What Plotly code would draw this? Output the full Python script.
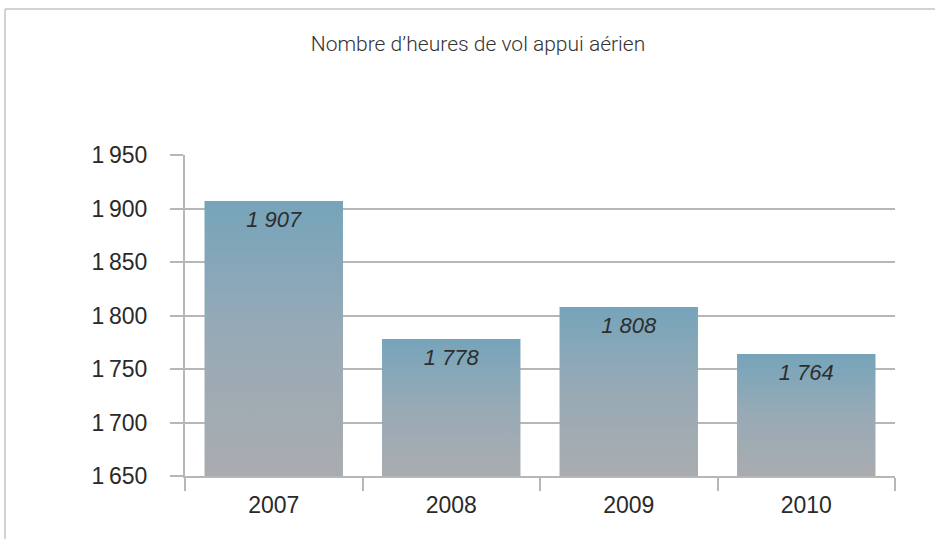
import plotly.graph_objects as go

annees = ["2007", "2008", "2009", "2010"]
heures = [1907, 1778, 1808, 1764]
etiquettes = ["1 907", "1 778", "1 808", "1 764"]
y_ticks = [1650, 1700, 1750, 1800, 1850, 1900, 1950]
titre = "Nombre d\u2019heures de vol appui a\u00e9rien"

y_min = 1650
demi_largeur = 0.39
gris = "#b5b7b9"
police = "Liberation Sans"
positions = list(range(len(annees)))

fig = go.Figure()

# trace invisible sur l'axe categoriel (graduations)
fig.add_trace(go.Scatter(x=annees, y=heures, mode="markers", marker=dict(opacity=0),
                         hoverinfo="skip", showlegend=False))

# barres en degrade (une trace par barre)
for i, h in zip(positions, heures):
    fig.add_trace(go.Scatter(
        x=[i - demi_largeur, i + demi_largeur, i + demi_largeur, i - demi_largeur, i - demi_largeur],
        y=[y_min, y_min, h, h, y_min],
        xaxis="x2", mode="lines", line=dict(width=0), fill="toself",
        fillgradient=dict(type="vertical",
                          colorscale=[[0, "#a9acaf"], [0.5, "#98aab6"], [1, "#76a4ba"]]),
        hoverinfo="skip", showlegend=False,
    ))

# etiquettes des valeurs
fig.add_trace(go.Scatter(
    x=positions, y=heures, xaxis="x3", mode="markers+text", text=etiquettes,
    marker=dict(size=14, opacity=0),
    textposition="bottom center",
    textfont=dict(family=police, size=22, color="#2e2e2e", style="italic"),
    hoverinfo="skip", showlegend=False,
))

fig.update_layout(
    width=935, height=539,
    margin=dict(l=185, r=40, t=155, b=63),
    paper_bgcolor="white", plot_bgcolor="white",
    font=dict(family=police, size=23, color="#2a2a2a"),
    title=dict(text=titre, x=478 / 935, xanchor="center", y=1 - 44 / 539, yanchor="middle",
               font=dict(family="Roboto", size=21, color="#333333", weight=300)),
    xaxis=dict(type="category", categoryorder="array", categoryarray=annees,
               range=[-0.5, 3.5], showgrid=False, showline=True, linecolor=gris, linewidth=2,
               ticks="outside", tickson="boundaries", ticklen=13, tickwidth=2, tickcolor=gris,
               ticklabelstandoff=7, fixedrange=True),
    xaxis2=dict(overlaying="x", range=[-0.5, 3.5], visible=False, fixedrange=True),
    xaxis3=dict(overlaying="x", range=[-0.5, 3.5], visible=False, fixedrange=True),
    yaxis=dict(range=[1650, 1950], tickvals=y_ticks,
               ticktext=[f"{v // 1000}\u2009{v % 1000:03d}" for v in y_ticks],
               showgrid=True, gridcolor=gris, gridwidth=2, zeroline=False,
               showline=True, linecolor=gris, linewidth=2,
               ticks="outside", ticklen=13, tickwidth=2, tickcolor=gris,
               ticklabelstandoff=18, fixedrange=True),
    shapes=[
        dict(type="line", xref="paper", yref="paper", x0=-0.2535, x1=1.1, y0=1.4548, y1=1.4548,
             line=dict(color="#c4c4c4", width=1.5)),
        dict(type="line", xref="paper", yref="paper", x0=-0.2535, x1=-0.2535, y0=1.4548, y1=-0.3,
             line=dict(color="#c4c4c4", width=1.5)),
    ],
)

fig.write_html("out.html", config={"displayModeBar": False},
               post_script="document.body.style.margin='0';")
